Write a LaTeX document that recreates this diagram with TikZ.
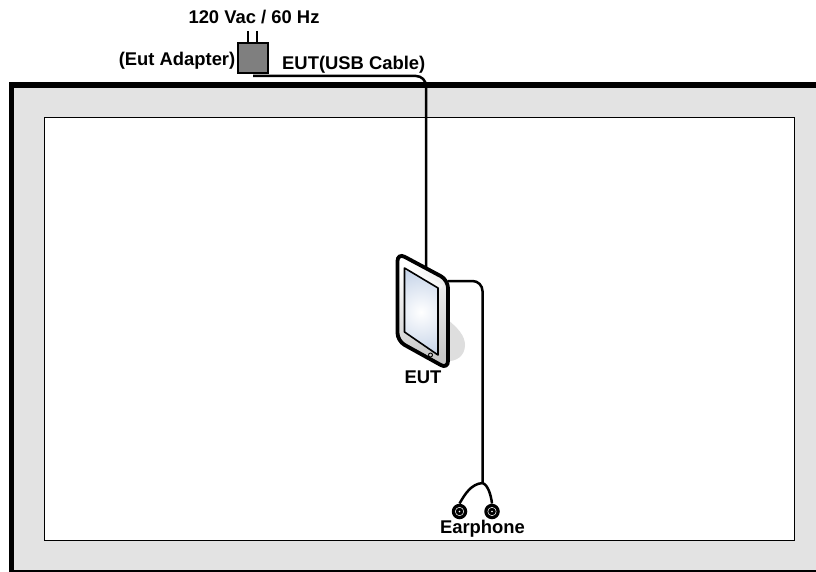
\documentclass[tikz,border=0pt]{standalone}
\usepackage{fontspec}
\setmainfont{Liberation Sans}
\definecolor{roomfill}{HTML}{E3E3E3}
\definecolor{adapterfill}{HTML}{7F7F7F}
\definecolor{screenedge}{HTML}{C5D3E8}
\definecolor{shadowgray}{HTML}{DEDEDE}
\tikzset{
  lbl/.style={font=\fontsize{18.4}{20}\bfseries\selectfont,inner sep=0pt,text=black},
  cable/.style={draw=black,line width=2.5pt,rounded corners=10pt},
  thincable/.style={draw=black,line width=2pt},
  jack/.style={circle,fill=black,minimum size=15.5pt,inner sep=0pt}
}
\begin{document}
\begin{tikzpicture}[x=1pt,y=-1pt]
\useasboundingbox (0,0) rectangle (816,572);
\fill[white] (0,0) rectangle (816,572);
% room
\fill[roomfill] (11,85) rectangle (816,570);
\draw[line width=5.2pt,line cap=butt] (816,85) -- (11.6,85) -- (11.6,572);
\fill[black] (9,569.5) rectangle (816,572);
\node[draw=black,line width=1.2pt,fill=white,minimum width=750pt,minimum height=423pt,inner sep=0pt,anchor=north west] (inner) at (43.6,116.6) {};
% adapter
\coordinate (pinA) at (248,31);
\coordinate (pinB) at (257,31);
\node[draw=black,line width=2.2pt,fill=adapterfill,minimum width=30pt,minimum height=30pt,inner sep=0pt] (adapter) at (253,58) {};
\draw[thincable] (pinA) -- (pinA |- adapter.north);
\draw[thincable] (pinB) -- (pinB |- adapter.north);
% tablet
\fill[shadowgray] (448,320) .. controls (458,328) and (465,336) .. (465,345) .. controls (465,356) and (456,362) .. (446,361) -- cycle;
\coordinate (tabTop) at (426,268);
\coordinate (tabRight) at (448,281);
\coordinate (usbStart) at (253,76);
\draw[line width=3.8pt,rounded corners=8pt,top color=white,bottom color=gray!45,shading angle=20]
  (397.5,253) -- (448,280) -- (448,369) -- (397.5,341) -- cycle;
\fill[white,opacity=.5] (401,262) -- (443,285) -- (441,289) -- (404,268) -- cycle;
\begin{scope}
\clip (404.5,268) -- (438,288) -- (438,355) -- (404.5,332) -- cycle;
\shade[inner color=white,outer color=screenedge] (421,312) circle (44pt);
\end{scope}
\draw[line width=1.6pt,line join=round] (404.5,268) -- (438,288) -- (438,355) -- (404.5,332) -- cycle;
\node[circle,draw=black,line width=.9pt,fill=gray!40,minimum size=4pt,inner sep=0pt] (button) at (430.5,355) {};
% cables
\draw[cable] (usbStart) -| (tabTop);
\draw[cable] (tabRight) -- (482.5,281) -- (482.5,483) coordinate (split);
% earphone
\node[jack] (jackL) at (459.5,511.5) {};
\node[jack] (jackR) at (492,511.5) {};
\foreach \j in {jackL,jackR}{
  \draw[white,line width=.5pt] (\j) circle (4.2pt);
  \fill[white] (\j) circle (.9pt);
}
\draw[black,line width=2.5pt] (split) .. controls (471,484) and (465,494) .. (jackL.north);
\draw[black,line width=2.5pt] (split) .. controls (488,485) and (491,495) .. (jackR.north);
% labels
\node[lbl] (volt) at (254,17) {120 Vac / 60 Hz};
\node[lbl,anchor=east] (adlabel) at (235.5,61) {(Eut Adapter)};
\node[lbl,anchor=west] (usblabel) at (282,64.5) {EUT(USB Cable)};
\node[lbl] (eutlabel) at (423,377.5) {EUT};
\node[lbl] (earlabel) at (482.5,528.5) {Earphone};
\end{tikzpicture}
\end{document}
